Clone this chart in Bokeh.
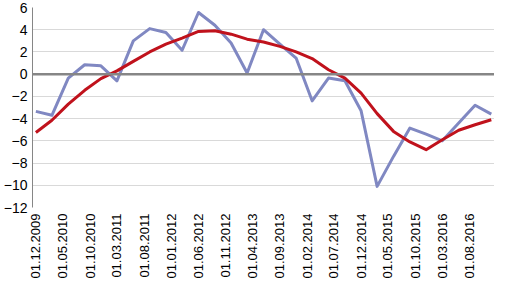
import pandas as pd
from bokeh.plotting import figure
from bokeh.models import Range1d, FixedTicker, DatetimeTickFormatter, Span, ColumnDataSource
from bokeh.embed import file_html
from bokeh.resources import INLINE

# Quarterly observations
dates = ["01.12.2009", "01.03.2010", "01.06.2010", "01.09.2010", "01.12.2010",
         "01.03.2011", "01.06.2011", "01.09.2011", "01.12.2011",
         "01.03.2012", "01.06.2012", "01.09.2012", "01.12.2012",
         "01.03.2013", "01.06.2013", "01.09.2013", "01.12.2013",
         "01.03.2014", "01.06.2014", "01.09.2014", "01.12.2014",
         "01.03.2015", "01.06.2015", "01.09.2015", "01.12.2015",
         "01.03.2016", "01.06.2016", "01.09.2016", "01.12.2016"]

series_blue = [-3.35, -3.7, -0.35, 0.85, 0.75,
               -0.6, 3.0, 4.1, 3.75,
               2.15, 5.55, 4.4, 2.8,
               0.1, 4.0, 2.7, 1.45,
               -2.4, -0.35, -0.6, -3.3,
               -10.1, -7.4, -4.85, -5.4,
               -6.0, -4.4, -2.8, -3.6]

series_red = [-5.25, -4.15, -2.7, -1.45, -0.4,
              0.3, 1.15, 2.0, 2.7,
              3.25, 3.85, 3.9, 3.6,
              3.15, 2.9, 2.5, 2.0,
              1.4, 0.4, -0.35, -1.7,
              -3.55, -5.15, -6.1, -6.8,
              -5.9, -5.05, -4.55, -4.1]

x_tick_labels = ["01.12.2009", "01.05.2010", "01.10.2010", "01.03.2011", "01.08.2011",
                 "01.01.2012", "01.06.2012", "01.11.2012", "01.04.2013", "01.09.2013",
                 "01.02.2014", "01.07.2014", "01.12.2014", "01.05.2015", "01.10.2015",
                 "01.03.2016", "01.08.2016"]

y_ticks = [-12, -10, -8, -6, -4, -2, 0, 2, 4, 6]

FONT = "Liberation Sans"

x = pd.to_datetime(dates, format="%d.%m.%Y")
src = ColumnDataSource(dict(x=x, blue=series_blue, red=series_red))

tick_ms = [pd.Timestamp(pd.to_datetime(t, format="%d.%m.%Y")).value / 1e6 for t in x_tick_labels]

x_start = x[0] - pd.Timedelta(days=19)
x_end = x[-1] + pd.Timedelta(days=18)

p = figure(width=494, height=281, output_backend="svg", toolbar_location=None,
           x_axis_type="datetime",
           x_range=Range1d(x_start, x_end), y_range=Range1d(-12, 6),
           min_border_left=20, min_border_right=0, min_border_top=7, min_border_bottom=0)

p.outline_line_color = None
p.background_fill_color = "white"
p.border_fill_color = "white"

p.xgrid.grid_line_color = None
p.ygrid.grid_line_color = "#d9d9d9"
p.ygrid.grid_line_width = 1
p.ygrid.ticker = FixedTicker(ticks=y_ticks)

p.yaxis.ticker = FixedTicker(ticks=y_ticks)
p.yaxis.axis_line_color = "#868686"
p.yaxis.axis_line_width = 1
p.yaxis.major_tick_line_color = None
p.yaxis.minor_tick_line_color = None
p.yaxis.major_tick_out = 0
p.yaxis.major_tick_in = 0
p.yaxis.major_label_text_font = FONT
p.yaxis.major_label_text_font_size = "14px"
p.yaxis.major_label_text_color = "#000000"
p.yaxis.major_label_standoff = 5

p.xaxis.ticker = FixedTicker(ticks=tick_ms)
p.xaxis.formatter = DatetimeTickFormatter(
    milliseconds="%d.%m.%Y", seconds="%d.%m.%Y", minsec="%d.%m.%Y", minutes="%d.%m.%Y",
    hourmin="%d.%m.%Y", hours="%d.%m.%Y", days="%d.%m.%Y", months="%d.%m.%Y",
    years="%d.%m.%Y", strip_leading_zeros=False)
p.xaxis.axis_line_color = None
p.xaxis.major_tick_line_color = None
p.xaxis.minor_tick_line_color = None
p.xaxis.major_tick_out = 0
p.xaxis.major_tick_in = 0
p.xaxis.major_label_orientation = 1.5708
p.xaxis.major_label_text_font = FONT
p.xaxis.major_label_text_font_size = "13px"
p.xaxis.major_label_text_color = "#000000"
p.xaxis.major_label_standoff = 6

zero = Span(location=0, dimension="width", line_color="#868686", line_width=2.5)
p.add_layout(zero)

p.line("x", "blue", source=src, line_color="#8088c2", line_width=3, line_join="round")
p.line("x", "red", source=src, line_color="#c0121c", line_width=3, line_join="round")

open("out.html", "w").write(file_html(p, INLINE))
